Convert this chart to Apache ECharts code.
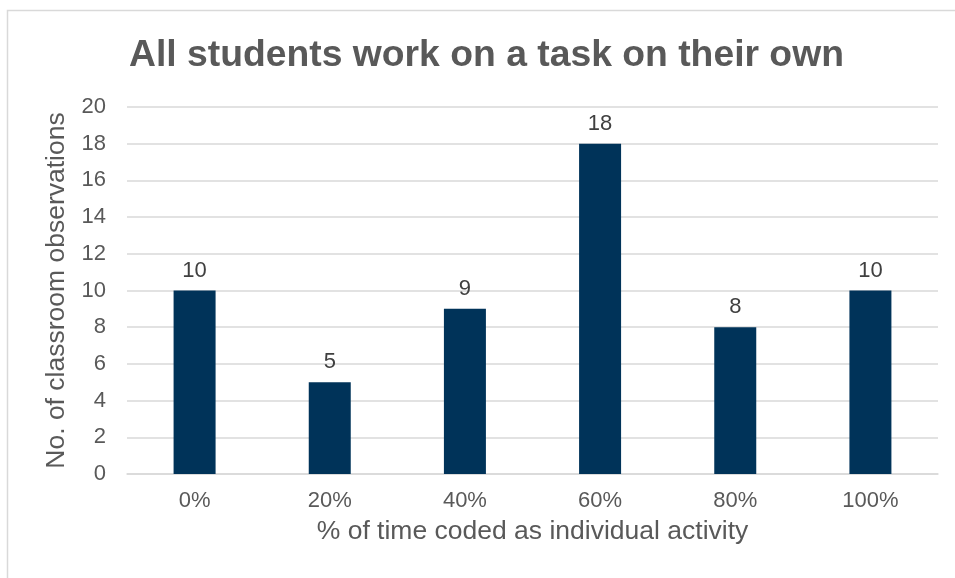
<!DOCTYPE html>
<html><head><meta charset="utf-8">
<script src="https://cdn.jsdelivr.net/npm/echarts@6/dist/echarts.min.js"></script>
<style>html,body{margin:0;padding:0;background:#fff}#c{width:955px;height:578px}</style>
</head><body><div id="c"></div>
<script>
const categories = ['0%', '20%', '40%', '60%', '80%', '100%'];
const observations = [10, 5, 9, 18, 8, 10];
const yTicks = [0, 2, 4, 6, 8, 10, 12, 14, 16, 18, 20];

const chart = echarts.init(document.getElementById('c'));
const font = 'Liberation Sans, Arial, sans-serif';
chart.setOption({
  animation: false,
  graphic: [{
    type: 'rect', shape: {x: 7.5, y: 10.5, width: 1000, height: 1000},
    style: {fill: 'none', stroke: '#d9d9d9', lineWidth: 1.5}, silent: true
  }],
  title: {
    text: 'All students work on a task on their own',
    left: 124, top: 32,
    textStyle: {fontFamily: font, fontSize: 37.3, fontWeight: 'bold', color: '#595959'}
  },
  grid: {left: 127, right: 17, top: 107, bottom: 104, containLabel: false},
  xAxis: {
    type: 'category', data: categories,
    name: '% of time coded as individual activity', nameLocation: 'middle', nameGap: 44,
    nameTextStyle: {fontFamily: font, fontSize: 26.5, color: '#595959'},
    axisLine: {lineStyle: {color: '#d9d9d9', width: 1.5}},
    axisTick: {show: false},
    axisLabel: {fontFamily: font, fontSize: 22, color: '#595959', margin: 16}
  },
  yAxis: {
    type: 'value', min: yTicks[0], max: yTicks[yTicks.length - 1], interval: 2,
    name: 'No. of classroom observations', nameLocation: 'middle', nameGap: 56,
    nameTextStyle: {fontFamily: font, fontSize: 26.5, color: '#595959'},
    axisLine: {show: false}, axisTick: {show: false},
    axisLabel: {fontFamily: font, fontSize: 22, color: '#595959', margin: 21},
    splitLine: {lineStyle: {color: '#d9d9d9', width: 1.5}}
  },
  series: [{
    type: 'bar', data: observations, barWidth: 42,
    itemStyle: {color: '#003359'},
    label: {show: true, position: 'top', distance: 9, fontFamily: font, fontSize: 22, color: '#404040'}
  }]
});
</script></body></html>
